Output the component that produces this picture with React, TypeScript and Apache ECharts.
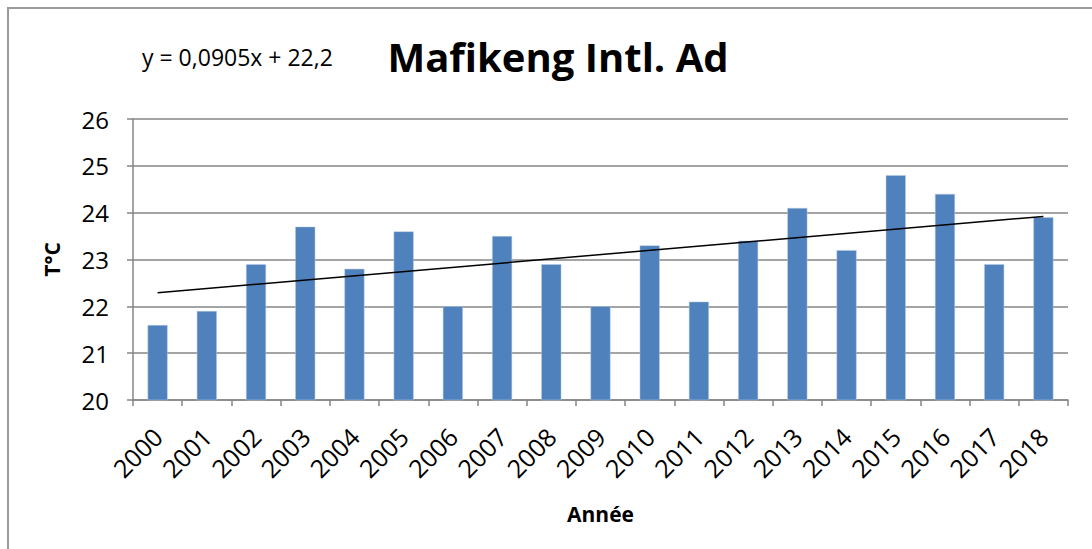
import React, { useEffect, useRef } from "react";
import * as echarts from "echarts";

const years = ["2000","2001","2002","2003","2004","2005","2006","2007","2008","2009","2010","2011","2012","2013","2014","2015","2016","2017","2018"];
const temps = [21.6,21.9,22.9,23.7,22.8,23.6,22.0,23.5,22.9,22.0,23.3,22.1,23.4,24.1,23.2,24.8,24.4,22.9,23.9];
const trendStart = 22.29;
const trendEnd = 23.92;
const titleText = "Mafikeng Intl. Ad";
const equationText = "y = 0,0905x + 22,2";
const yName = "T°C";
const xName = "Année";

const FONT = "'Open Sans', sans-serif";

export default function App() {
  const ref = useRef<HTMLDivElement>(null);
  useEffect(() => {
    if (!ref.current) return;
    const chart = echarts.init(ref.current, null, { renderer: "svg" });
    chart.setOption({
      animation: false,
      backgroundColor: "#ffffff",
      textStyle: { fontFamily: FONT },
      title: {
        text: titleText,
        left: 553,
        top: 31,
        textAlign: "center",
        textStyle: { fontFamily: FONT, fontWeight: "bold", fontSize: 40, color: "#000" },
      },
      graphic: [
        {
          type: "polyline",
          shape: { points: [[8, 549], [8, 8], [1092, 8]] },
          style: { stroke: "#9a9a9a", lineWidth: 2, fill: "none" },
        },
        {
          type: "text",
          x: 142,
          y: 57,
          style: {
            text: equationText,
            fontFamily: FONT,
            fontSize: 23,
            fill: "#000",
            verticalAlign: "middle",
          },
        },
      ],
      grid: { left: 133, right: 24, top: 119, bottom: 149, containLabel: false },
      xAxis: {
        type: "category",
        data: years,
        name: xName,
        nameLocation: "middle",
        nameGap: 103,
        nameTextStyle: { fontFamily: FONT, fontWeight: "bold", fontSize: 21, color: "#000" },
        axisLine: { lineStyle: { color: "#868686", width: 1.5 } },
        axisTick: { show: true, length: 6, lineStyle: { color: "#868686", width: 1.5 } },
        axisLabel: { rotate: 45, fontFamily: FONT, fontSize: 25, color: "#000", margin: 32, interval: 0 },
        splitLine: { show: false },
      },
      yAxis: {
        type: "value",
        min: 20,
        max: 26,
        interval: 1,
        name: yName,
        nameLocation: "middle",
        nameGap: 71,
        nameRotate: 90,
        nameTextStyle: { fontFamily: FONT, fontWeight: "bold", fontSize: 21, color: "#000" },
        axisLine: { show: true, lineStyle: { color: "#868686", width: 1.5 } },
        axisTick: { show: true, length: 6, lineStyle: { color: "#868686", width: 1.5 } },
        axisLabel: { fontFamily: FONT, fontSize: 24, color: "#000", margin: 24 },
        splitLine: { show: true, lineStyle: { color: "#868686", width: 1.5 } },
      },
      series: [
        {
          type: "bar",
          data: temps,
          barWidth: 20,
          itemStyle: { color: "#4f81bd", borderColor: "#b9cde5", borderWidth: 0.5 },
          markLine: {
            symbol: "none",
            silent: true,
            label: { show: false },
            lineStyle: { color: "#000", width: 1.5, type: "solid" },
            data: [[{ coord: [years[0], trendStart] }, { coord: [years[years.length - 1], trendEnd] }]],
          },
        },
      ],
    });
    return () => chart.dispose();
  }, []);
  return (
    <div
      ref={ref}
      style={{ position: "absolute", left: 0, top: 0, width: 1092, height: 549 }}
    />
  );
}
